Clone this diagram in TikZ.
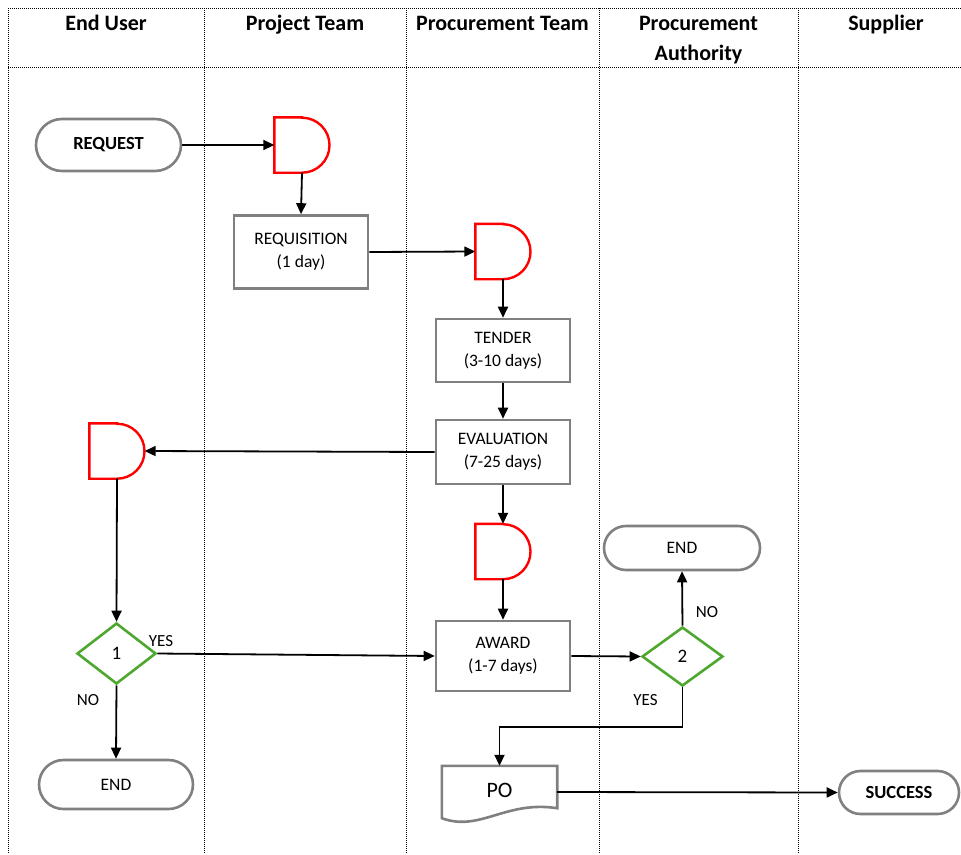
\documentclass[tikz,border=0pt]{standalone}
\usepackage{fontspec}
\setmainfont{Carlito}
\usetikzlibrary{shapes.geometric,shapes.misc,arrows.meta}
\definecolor{boxgray}{RGB}{128,128,128}
\definecolor{dred}{RGB}{255,0,0}
\definecolor{dgreen}{RGB}{78,167,46}
\begin{document}
\begin{tikzpicture}[x=1pt,y=-1pt,
  grid/.style={line width=0.9pt, dash pattern=on 1pt off 1pt},
  hdr/.style={font=\fontsize{22}{30}\selectfont\bfseries, align=center, inner sep=0},
  proc/.style={draw=boxgray, line width=2.6pt, rectangle, minimum width=134pt, align=center, font=\fontsize{17.5}{23}\selectfont, inner sep=0},
  term/.style={draw=boxgray, line width=2.6pt, rounded rectangle, inner sep=0, font=\fontsize{17.5}{20}\selectfont},
  dec/.style={draw=dgreen, line width=2.6pt, diamond, inner sep=0, font=\fontsize{19}{19}\selectfont},
  delaybox/.style={rectangle, minimum width=55pt, minimum height=55pt, inner sep=0, draw=none},
  delayline/.style={draw=dred, line width=2.4pt, line join=miter},
  conn/.style={line width=1.8pt, -{Triangle[length=11pt,width=10pt]}},
  lbl/.style={font=\fontsize{17}{17}\selectfont, inner sep=0}
]
\useasboundingbox (0,0) rectangle (961,854);
% table grid
\draw[grid] (8,8) -- (961,8);
\draw[grid] (8,67) -- (961,67);
\foreach \x in {8,204,406,599,798} \draw[grid] (\x,8) -- (\x,854);
% headers
\node[hdr, anchor=base] (h1) at (106,30.5) {End User};
\node[hdr, anchor=base] (h2) at (305,30.5) {Project Team};
\node[hdr, anchor=base] (h3) at (502.5,30.5) {Procurement Team};
\node[hdr, anchor=base] (h4) at (698.5,60.5) {Procurement\\Authority};
\node[hdr, anchor=base] (h5) at (886,30.5) {Supplier};

% terminals
\node[term, minimum width=145pt, minimum height=52pt, font=\fontsize{18.5}{20}\selectfont\bfseries] (request) at (108.5,145) {REQUEST};
\node[term, minimum width=154pt, minimum height=49pt] (end1) at (116,784.5) {END};
\node[term, minimum width=156pt, minimum height=44pt] (end2) at (682,548) {END};
\node[term, minimum width=120pt, minimum height=43pt, font=\fontsize{18.5}{20}\selectfont\bfseries] (success) at (899,792.5) {SUCCESS};

% process boxes
\node[proc, minimum height=73pt] (req) at (301,252) {REQUISITION\\(1 day)};
\node[proc, minimum height=63pt] (tender) at (503,350.5) {TENDER\\(3-10 days)};
\node[proc, minimum height=64pt] (eval) at (503,452) {EVALUATION\\(7-25 days)};
\node[proc, minimum height=70pt] (award) at (503,656) {AWARD\\(1-7 days)};

% delays
\node[delaybox] (d1) at (302,145) {};
\node[delaybox] (d2) at (503,251.5) {};
\node[delaybox] (d3) at (117,451) {};
\node[delaybox] (d4) at (503,551.5) {};
\foreach \d in {d1,d2,d3,d4}
  \draw[delayline] (\d.north) -- (\d.north west) -- (\d.south west) -- (\d.south)
     arc[start angle=-90, end angle=90, radius=27.5pt] -- cycle;

% decisions
\node[dec, minimum width=79pt, minimum height=61pt] (dia1) at (116.5,653.5) {1};
\node[dec, minimum width=81pt, minimum height=59pt] (dia2) at (682.5,656.5) {2};

% document
\node[rectangle, draw=none, minimum width=115pt, minimum height=52pt, inner sep=0, font=\fontsize{22}{22}\selectfont] (po) at (499.5,792) {\raisebox{4pt}{PO}};
\draw[draw=boxgray, line width=2.6pt, line join=miter]
  (po.south west) -- (po.north west) -- (po.north east) -- ([yshift=10pt]po.south east)
  .. controls ([xshift=-52pt,yshift=18pt]po.south east) and ([xshift=-77pt,yshift=-14pt]po.south east) .. (po.south west) -- cycle;

% labels
\node[lbl] (yes1) at (161,641) {YES};
\node[lbl] (no1) at (88,700) {NO};
\node[lbl] (no2) at (707,612) {NO};
\node[lbl] (yes2) at (645.5,700) {YES};

% connectors
\draw[conn] (request.east) -- (d1.west);
\draw[conn] (d1.south) -- (req.north);
\draw[conn] (req.east) -- (d2.west);
\draw[conn] (d2.south) -- (tender.north);
\draw[conn] (tender.south) -- (eval.north);
\draw[conn] (eval.west) -- (d3.east);
\draw[conn] (eval.south) -- (d4.north);
\draw[conn] (d4.south) -- (award.north);
\draw[conn] (d3.south) -- (dia1.north);
\draw[conn] (dia1.east) -- (award.west);
\draw[conn] (dia1.south) -- (end1.north);
\draw[conn] (award.east) -- (dia2.west);
\draw[conn] (dia2.north) -- (end2.south);
\draw[conn] (dia2.south) -- ++(0,40) -| (po.north);
\draw[conn] (po.east) -- (success.west);
\end{tikzpicture}
\end{document}
